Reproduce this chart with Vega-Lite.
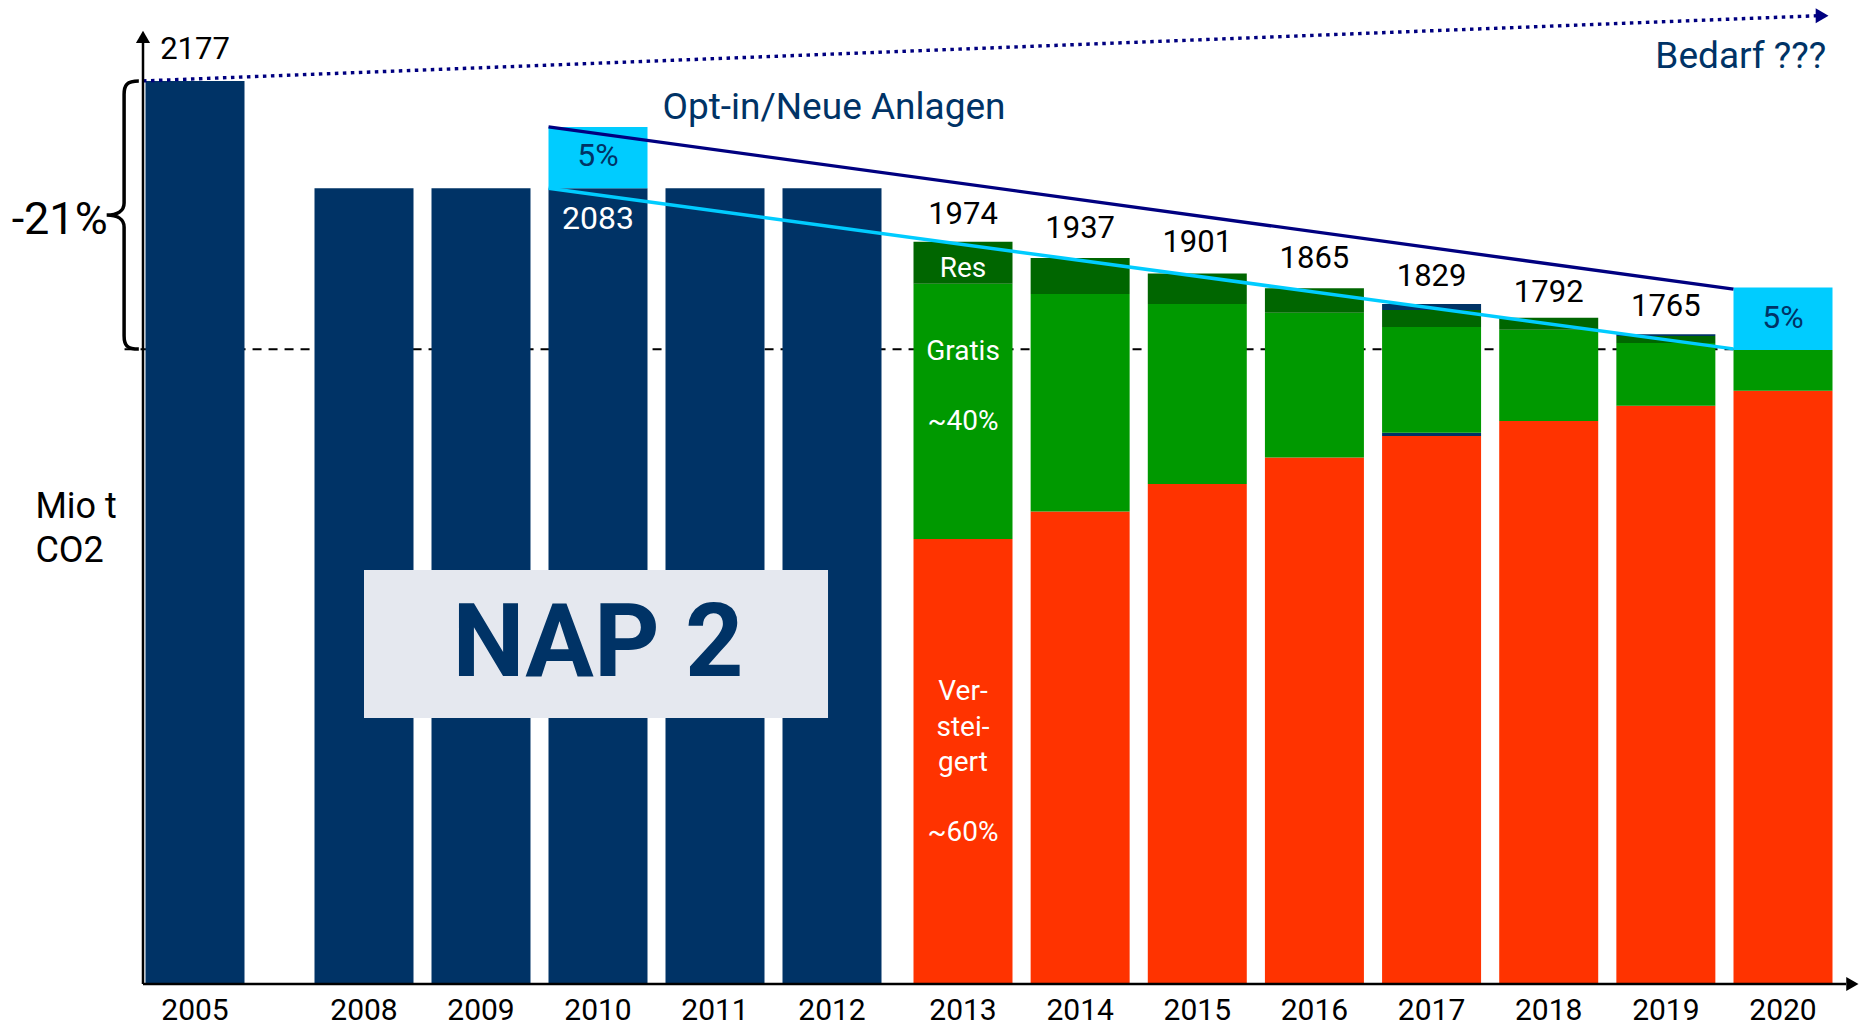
{
  "$schema": "https://vega.github.io/schema/vega-lite/v6.json",
  "width": 1866,
  "height": 984,
  "autosize": {"type": "none"},
  "padding": {"left": 0, "top": 0, "right": 0, "bottom": 46},
  "background": "white",
  "config": {"view": {"stroke": null}, "font": "Roboto"},
  "datasets": {
    "balken": [
      {"jahr": 2005, "segment": "Zuteilung", "wert": 2177, "reihe": 1},
      {"jahr": 2008, "segment": "Zuteilung", "wert": 1918, "reihe": 1},
      {"jahr": 2009, "segment": "Zuteilung", "wert": 1918, "reihe": 1},
      {"jahr": 2010, "segment": "Zuteilung", "wert": 1918, "reihe": 1},
      {"jahr": 2010, "segment": "Opt-in", "wert": 148, "reihe": 6},
      {"jahr": 2011, "segment": "Zuteilung", "wert": 1918, "reihe": 1},
      {"jahr": 2012, "segment": "Zuteilung", "wert": 1918, "reihe": 1},
      {"jahr": 2013, "segment": "Versteigert", "wert": 1073, "reihe": 1},
      {"jahr": 2013, "segment": "Gratis", "wert": 615, "reihe": 3},
      {"jahr": 2013, "segment": "Res", "wert": 101, "reihe": 4},
      {"jahr": 2014, "segment": "Versteigert", "wert": 1139, "reihe": 1},
      {"jahr": 2014, "segment": "Gratis", "wert": 524, "reihe": 3},
      {"jahr": 2014, "segment": "Res", "wert": 87, "reihe": 4},
      {"jahr": 2015, "segment": "Versteigert", "wert": 1205, "reihe": 1},
      {"jahr": 2015, "segment": "Gratis", "wert": 434, "reihe": 3},
      {"jahr": 2015, "segment": "Res", "wert": 74, "reihe": 4},
      {"jahr": 2016, "segment": "Versteigert", "wert": 1269, "reihe": 1},
      {"jahr": 2016, "segment": "Gratis", "wert": 349, "reihe": 3},
      {"jahr": 2016, "segment": "Res", "wert": 59, "reihe": 4},
      {"jahr": 2017, "segment": "Versteigert", "wert": 1321, "reihe": 1},
      {"jahr": 2017, "segment": "Neu", "wert": 8, "reihe": 2},
      {"jahr": 2017, "segment": "Gratis", "wert": 255, "reihe": 3},
      {"jahr": 2017, "segment": "Res", "wert": 41, "reihe": 4},
      {"jahr": 2017, "segment": "Neu", "wert": 14, "reihe": 5},
      {"jahr": 2018, "segment": "Versteigert", "wert": 1357, "reihe": 1},
      {"jahr": 2018, "segment": "Gratis", "wert": 220, "reihe": 3},
      {"jahr": 2018, "segment": "Res", "wert": 29, "reihe": 4},
      {"jahr": 2019, "segment": "Versteigert", "wert": 1394, "reihe": 1},
      {"jahr": 2019, "segment": "Gratis", "wert": 151, "reihe": 3},
      {"jahr": 2019, "segment": "Res", "wert": 17, "reihe": 4},
      {"jahr": 2019, "segment": "Neu", "wert": 4, "reihe": 5},
      {"jahr": 2020, "segment": "Versteigert", "wert": 1430, "reihe": 1},
      {"jahr": 2020, "segment": "Gratis", "wert": 98, "reihe": 3},
      {"jahr": 2020, "segment": "Opt-in", "wert": 151, "reihe": 6}
    ],
    "achse": [
      {"jahr": 2005}, {"jahr": 2008}, {"jahr": 2009}, {"jahr": 2010}, {"jahr": 2011},
      {"jahr": 2012}, {"jahr": 2013}, {"jahr": 2014}, {"jahr": 2015}, {"jahr": 2016},
      {"jahr": 2017}, {"jahr": 2018}, {"jahr": 2019}, {"jahr": 2020}
    ],
    "zahlen": [
      {"jahr": 2005, "wert": 2252, "label": "2177"},
      {"jahr": 2013, "wert": 1854, "label": "1974"},
      {"jahr": 2014, "wert": 1820, "label": "1937"},
      {"jahr": 2015, "wert": 1786, "label": "1901"},
      {"jahr": 2016, "wert": 1748, "label": "1865"},
      {"jahr": 2017, "wert": 1704, "label": "1829"},
      {"jahr": 2018, "wert": 1666, "label": "1792"},
      {"jahr": 2019, "wert": 1632, "label": "1765"}
    ],
    "prozent": [
      {"jahr": 2010, "wert": 1996, "label": "5%"},
      {"jahr": 2020, "wert": 1606, "label": "5%"}
    ],
    "weiss_gross": [
      {"jahr": 2010, "wert": 1845, "label": "2083"}
    ],
    "weiss": [
      {"jahr": 2013, "wert": 1724, "label": "Res"},
      {"jahr": 2013, "wert": 1524, "label": "Gratis"},
      {"jahr": 2013, "wert": 1355, "label": "~40%"},
      {"jahr": 2013, "wert": 704, "label": "Ver-"},
      {"jahr": 2013, "wert": 617, "label": "stei-"},
      {"jahr": 2013, "wert": 533, "label": "gert"},
      {"jahr": 2013, "wert": 364, "label": "~60%"}
    ],
    "titel": [
      {"jahr": 2012.015, "wert": 2112, "label": "Opt-in/Neue Anlagen"},
      {"jahr": 2019.64, "wert": 2235, "label": "Bedarf ???"}
    ],
    "links_mitte": [
      {"jahr": 2003.673, "wert": 1842, "label": "-21%"}
    ],
    "links": [
      {"jahr": 2003.433, "wert": 1151, "label": "Mio t"},
      {"jahr": 2003.433, "wert": 1044, "label": "CO2"}
    ],
    "nap": [
      {"jahr": 2010, "wert": 817, "label": "NAP 2"}
    ],
    "leer": [{}]
  },
  "layer": [
    {
      "data": {"name": "leer"},
      "mark": {"type": "rule", "color": "black", "strokeWidth": 2, "strokeDash": [9, 7]},
      "encoding": {
        "x": {
          "datum": 2004.317,
          "type": "quantitative",
          "scale": {
            "domain": [2003, 2004.5, 2005, 2008, 2012, 2013, 2020, 2020.5],
            "range": [-13, 143, 195, 364, 832, 963, 1783, 1852],
            "nice": false,
            "zero": false
          },
          "axis": null
        },
        "x2": {"datum": 2020.37},
        "y": {
          "datum": 1530,
          "type": "quantitative",
          "scale": {"domain": [0, 2372], "nice": false},
          "axis": null
        }
      }
    },
    {
      "data": {"name": "balken"},
      "mark": {"type": "bar", "width": 99, "orient": "vertical"},
      "encoding": {
        "x": {"field": "jahr", "type": "quantitative", "axis": null},
        "y": {"field": "wert", "type": "quantitative", "stack": "zero", "axis": null},
        "color": {
          "field": "segment",
          "type": "nominal",
          "scale": {
            "domain": ["Zuteilung", "Opt-in", "Versteigert", "Gratis", "Res", "Neu"],
            "range": ["#003366", "#00ccff", "#ff3300", "#009900", "#006600", "#003366"]
          },
          "legend": null
        },
        "order": {"field": "reihe", "type": "quantitative"}
      }
    },
    {
      "data": {"name": "leer"},
      "mark": {"type": "rect", "color": "#e5e8ef"},
      "encoding": {
        "x": {"datum": 2008, "type": "quantitative", "axis": null},
        "x2": {"datum": 2011.966},
        "y": {"datum": 641, "type": "quantitative", "axis": null},
        "y2": {"datum": 998}
      }
    },
    {
      "data": {"name": "nap"},
      "mark": {"type": "text", "font": "Roboto", "fontWeight": "bold", "fontSize": 102, "color": "#003366", "align": "center", "baseline": "middle"},
      "encoding": {
        "x": {"field": "jahr", "type": "quantitative", "axis": null},
        "y": {"field": "wert", "type": "quantitative", "axis": null},
        "text": {"field": "label"}
      }
    },
    {
      "data": {"name": "leer"},
      "mark": {"type": "rule", "color": "#000080", "strokeWidth": 3.3},
      "encoding": {
        "x": {"datum": 2009.577, "type": "quantitative", "axis": null},
        "y": {"datum": 2066, "type": "quantitative", "axis": null},
        "x2": {"datum": 2019.577},
        "y2": {"datum": 1675}
      }
    },
    {
      "data": {"name": "leer"},
      "mark": {"type": "rule", "color": "#00ccff", "strokeWidth": 3.5},
      "encoding": {
        "x": {"datum": 2009.577, "type": "quantitative", "axis": null},
        "y": {"datum": 1918, "type": "quantitative", "axis": null},
        "x2": {"datum": 2019.577},
        "y2": {"datum": 1531}
      }
    },
    {
      "data": {"name": "leer"},
      "mark": {"type": "rule", "color": "#000080", "strokeWidth": 3.4, "strokeDash": [3.5, 4.5], "strokeCap": "butt"},
      "encoding": {
        "x": {"datum": 2004.5, "type": "quantitative", "axis": null},
        "y": {"datum": 2177, "type": "quantitative", "axis": null},
        "x2": {"datum": 2020.27},
        "y2": {"datum": 2334}
      }
    },
    {
      "data": {"name": "leer"},
      "mark": {"type": "point", "shape": "triangle-right", "filled": true, "color": "#000080", "size": 220, "opacity": 1},
      "encoding": {
        "x": {"datum": 2020.31, "type": "quantitative", "axis": null},
        "y": {"datum": 2334, "type": "quantitative", "axis": null}
      }
    },
    {
      "data": {"name": "leer"},
      "mark": {"type": "rule", "color": "black", "strokeWidth": 2.5},
      "encoding": {
        "x": {"datum": 2004.5, "type": "quantitative", "axis": null},
        "y": {"datum": 0, "type": "quantitative", "axis": null},
        "y2": {"datum": 2270}
      }
    },
    {
      "data": {"name": "leer"},
      "mark": {"type": "rule", "color": "black", "strokeWidth": 2.5},
      "encoding": {
        "x": {"datum": 2004.5, "type": "quantitative", "axis": null},
        "x2": {"datum": 2020.5},
        "y": {"datum": 0, "type": "quantitative", "axis": null}
      }
    },
    {
      "data": {"name": "leer"},
      "mark": {"type": "point", "shape": "triangle-up", "filled": true, "color": "black", "size": 200, "opacity": 1},
      "encoding": {
        "x": {"datum": 2004.5, "type": "quantitative", "axis": null},
        "y": {"datum": 2283, "type": "quantitative", "axis": null}
      }
    },
    {
      "data": {"name": "leer"},
      "mark": {"type": "point", "shape": "triangle-right", "filled": true, "color": "black", "size": 200, "opacity": 1},
      "encoding": {
        "x": {"datum": 2020.55, "type": "quantitative", "axis": null},
        "y": {"datum": 0, "type": "quantitative", "axis": null}
      }
    },
    {
      "data": {"name": "leer"},
      "mark": {
        "type": "point",
        "shape": "M0.11,-1C0.02,-1,0,-0.97,0,-0.9L0,-0.09C0,-0.03,-0.05,0,-0.13,0C-0.05,0,0,0.03,0,0.09L0,0.9C0,0.97,0.02,1,0.11,1",
        "filled": false,
        "stroke": "black",
        "strokeWidth": 3.5,
        "size": 71824,
        "opacity": 1
      },
      "encoding": {
        "x": {"datum": 2004.3125, "type": "quantitative", "axis": null},
        "y": {"datum": 1853.5, "type": "quantitative", "axis": null}
      }
    },
    {
      "data": {"name": "achse"},
      "mark": {"type": "text", "font": "Roboto", "fontSize": 30, "color": "black", "align": "center", "baseline": "middle"},
      "encoding": {
        "x": {"field": "jahr", "type": "quantitative", "axis": null},
        "y": {"datum": -65, "type": "quantitative", "axis": null},
        "text": {"field": "jahr", "type": "quantitative", "format": "d"}
      }
    },
    {
      "data": {"name": "zahlen"},
      "mark": {"type": "text", "font": "Roboto", "fontSize": 31, "color": "black", "align": "center", "baseline": "middle"},
      "encoding": {
        "x": {"field": "jahr", "type": "quantitative", "axis": null},
        "y": {"field": "wert", "type": "quantitative", "axis": null},
        "text": {"field": "label"}
      }
    },
    {
      "data": {"name": "prozent"},
      "mark": {"type": "text", "font": "Roboto", "fontSize": 32, "color": "#003366", "align": "center", "baseline": "middle"},
      "encoding": {
        "x": {"field": "jahr", "type": "quantitative", "axis": null},
        "y": {"field": "wert", "type": "quantitative", "axis": null},
        "text": {"field": "label"}
      }
    },
    {
      "data": {"name": "weiss_gross"},
      "mark": {"type": "text", "font": "Roboto", "fontSize": 32, "color": "white", "align": "center", "baseline": "middle"},
      "encoding": {
        "x": {"field": "jahr", "type": "quantitative", "axis": null},
        "y": {"field": "wert", "type": "quantitative", "axis": null},
        "text": {"field": "label"}
      }
    },
    {
      "data": {"name": "weiss"},
      "mark": {"type": "text", "font": "Roboto", "fontSize": 28, "color": "white", "align": "center", "baseline": "middle"},
      "encoding": {
        "x": {"field": "jahr", "type": "quantitative", "axis": null},
        "y": {"field": "wert", "type": "quantitative", "axis": null},
        "text": {"field": "label"}
      }
    },
    {
      "data": {"name": "titel"},
      "mark": {"type": "text", "font": "Roboto", "fontSize": 37, "color": "#003366", "align": "center", "baseline": "middle"},
      "encoding": {
        "x": {"field": "jahr", "type": "quantitative", "axis": null},
        "y": {"field": "wert", "type": "quantitative", "axis": null},
        "text": {"field": "label"}
      }
    },
    {
      "data": {"name": "links_mitte"},
      "mark": {"type": "text", "font": "Roboto", "fontSize": 45, "color": "black", "align": "center", "baseline": "middle"},
      "encoding": {
        "x": {"field": "jahr", "type": "quantitative", "axis": null},
        "y": {"field": "wert", "type": "quantitative", "axis": null},
        "text": {"field": "label"}
      }
    },
    {
      "data": {"name": "links"},
      "mark": {"type": "text", "font": "Roboto", "fontSize": 36, "color": "black", "align": "left", "baseline": "middle"},
      "encoding": {
        "x": {"field": "jahr", "type": "quantitative", "axis": null},
        "y": {"field": "wert", "type": "quantitative", "axis": null},
        "text": {"field": "label"}
      }
    }
  ]
}
